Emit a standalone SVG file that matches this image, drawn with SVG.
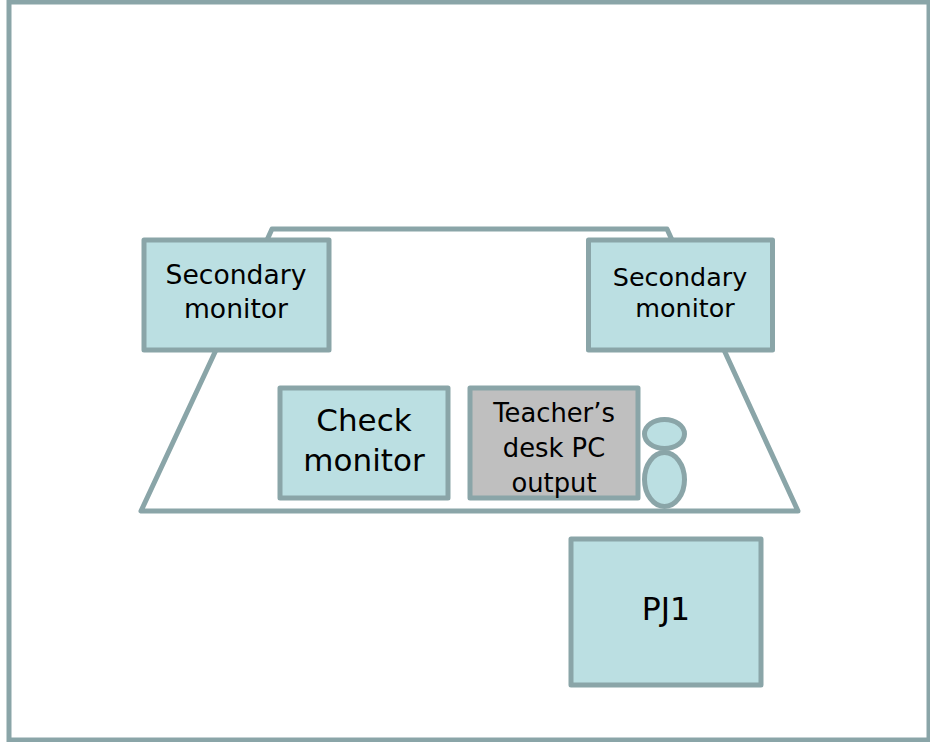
<svg xmlns="http://www.w3.org/2000/svg" width="930" height="742" viewBox="0 0 930 742">
<style>
.b{fill:#bbdfe2;stroke:#8aa5a8;stroke-width:5;stroke-linejoin:round}
.g{fill:#bfbfbf;stroke:#8aa5a8;stroke-width:5;stroke-linejoin:round}
.l{fill:none;stroke:#8aa5a8;stroke-width:5;stroke-linejoin:round}
text{font-family:"DejaVu Sans","Noto Sans",sans-serif;text-anchor:middle;fill:#000}
</style>
<rect width="930" height="742" fill="#fff"/>
<rect x="9" y="2" width="920" height="738" fill="#fff" stroke="#8aa5a8" stroke-width="5"/>
<g id="connectors">
<path class="l" d="M267 240L272 229H667L672 240"/>
<path class="l" d="M216 350L141 511H798L724 350"/>
</g>
<g id="sec-left"><rect class="b" x="144" y="240" width="185" height="110"/><text x="236" y="284" font-size="26.6">Secondary</text><text x="236" y="318" font-size="26.6">monitor</text></g>
<g id="sec-right"><rect class="b" x="588.5" y="240" width="184" height="110"/><text x="680" y="286" font-size="25.4">Secondary</text><text x="685" y="317" font-size="25.4">monitor</text></g>
<g id="check"><rect class="b" x="280" y="388" width="168" height="110"/><text x="364" y="431" font-size="31">Check</text><text x="364" y="471" font-size="31">monitor</text></g>
<g id="pc"><rect class="g" x="470" y="388" width="168" height="110"/><text x="554" y="422" font-size="25.8">Teacher’s</text><text x="554" y="457" font-size="25.8">desk PC</text><text x="554" y="492" font-size="25.8">output</text></g>
<g id="person"><ellipse class="b" cx="664.5" cy="434" rx="20" ry="14.5"/><ellipse class="b" cx="664.5" cy="479.5" rx="20" ry="27"/></g>
<g id="pj1"><rect class="b" x="571" y="539" width="190" height="146"/><text x="666" y="620" font-size="31.5">PJ1</text></g>
</svg>
